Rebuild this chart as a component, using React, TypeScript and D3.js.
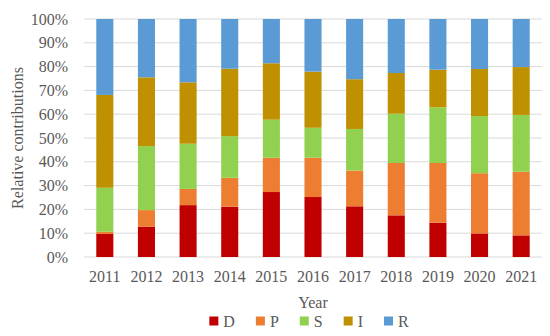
import React from 'react';
import { scaleBand, scaleLinear, stack } from 'd3';

const years = ['2011', '2012', '2013', '2014', '2015', '2016', '2017', '2018', '2019', '2020', '2021'];
const seriesKeys = ['D', 'P', 'S', 'I', 'R'];
const seriesColors = ['#C00000', '#ED7D31', '#92D050', '#BF9000', '#5B9BD5'];

const dValues = [9.7, 12.7, 21.8, 21.1, 27.3, 25.2, 21.3, 17.5, 14.4, 9.9, 9.1];
const pValues = [0.9, 7.0, 6.8, 12.2, 14.4, 16.5, 15.0, 22.0, 25.1, 25.3, 26.7];
const sValues = [18.5, 26.9, 19.0, 17.5, 16.0, 12.6, 17.5, 20.7, 23.4, 24.0, 23.9];
const iValues = [39.0, 28.9, 25.8, 28.3, 23.7, 23.6, 20.9, 17.1, 15.8, 19.8, 20.1];
const rValues = [31.9, 24.5, 26.6, 20.9, 18.6, 22.1, 25.3, 22.7, 21.3, 21.0, 20.2];

const yTicks = [0, 10, 20, 30, 40, 50, 60, 70, 80, 90, 100];

const width = 550;
const height = 336;
const left = 84;
const right = 542;
const top = 19;
const bottom = 257;
const font = "'Liberation Serif', 'Times New Roman', serif";
const fontSize = 16;
const textColor = '#595959';

// rough Times advance widths (em) for the legend labels
const glyphWidth = { D: 0.722, P: 0.556, S: 0.556, I: 0.333, R: 0.667 };
const swatch = 9;
const swatchGap = 5;
const itemGap = 21;

const App = () => {
  const rows = years.map((year, i) => ({
    year,
    D: dValues[i],
    P: pValues[i],
    S: sValues[i],
    I: iValues[i],
    R: rValues[i],
  }));
  // normalise each year to 100%
  const normRows = rows.map((r) => {
    const total = seriesKeys.reduce((s, k) => s + r[k], 0);
    const out = { year: r.year };
    seriesKeys.forEach((k) => (out[k] = (r[k] / total) * 100));
    return out;
  });
  const stacked = stack().keys(seriesKeys)(normRows);

  const x = scaleBand().domain(years).range([left, right]).paddingInner(0.59).paddingOuter(0.295);
  const y = scaleLinear().domain([0, 100]).range([bottom, top]);
  const plotCenter = (left + right) / 2;

  // legend layout, items placed one after another, whole row centred
  const itemWidths = seriesKeys.map((k) => swatch + swatchGap + glyphWidth[k] * fontSize);
  const legendWidth = itemWidths.reduce((a, b) => a + b, 0) + itemGap * (seriesKeys.length - 1);
  let cursor = plotCenter - 4 - legendWidth / 2;
  const legendPos = itemWidths.map((w) => {
    const p = cursor;
    cursor += w + itemGap;
    return p;
  });

  return (
    <svg width={width} height={height} style={{ position: 'absolute', left: 0, top: 0 }}>
      <rect width={width} height={height} fill='#fff' />
      {yTicks.map((t) => (
        <g key={t}>
          <line x1={left} x2={right} y1={y(t)} y2={y(t)} stroke='#D9D9D9' strokeWidth={1} />
          <text
            x={68}
            y={y(t)}
            dy='0.35em'
            textAnchor='end'
            fontFamily={font}
            fontSize={fontSize}
            fill={textColor}
          >
            {t}%
          </text>
        </g>
      ))}
      {stacked.map((layer, li) => (
        <g key={layer.key} fill={seriesColors[li]}>
          {layer.map((d, i) => (
            <rect
              key={years[i]}
              x={x(years[i])}
              width={x.bandwidth()}
              y={y(d[1])}
              height={y(d[0]) - y(d[1])}
            />
          ))}
        </g>
      ))}
      {years.map((yr) => (
        <text
          key={yr}
          x={x(yr) + x.bandwidth() / 2}
          y={282}
          textAnchor='middle'
          fontFamily={font}
          fontSize={fontSize}
          fill={textColor}
        >
          {yr}
        </text>
      ))}
      <text x={plotCenter} y={308} textAnchor='middle' fontFamily={font} fontSize={fontSize} fill={textColor}>
        Year
      </text>
      <text
        transform={`translate(23, ${(top + bottom) / 2}) rotate(-90)`}
        textAnchor='middle'
        fontFamily={font}
        fontSize={fontSize}
        fill={textColor}
      >
        Relative contributions
      </text>
      {seriesKeys.map((k, i) => (
        <g key={k} transform={`translate(${legendPos[i]}, 321)`}>
          <rect x={0} y={-swatch / 2} width={swatch} height={swatch} fill={seriesColors[i]} />
          <text x={swatch + swatchGap} y={0} dy='0.35em' fontFamily={font} fontSize={fontSize} fill={textColor}>
            {k}
          </text>
        </g>
      ))}
    </svg>
  );
};

export default App;
